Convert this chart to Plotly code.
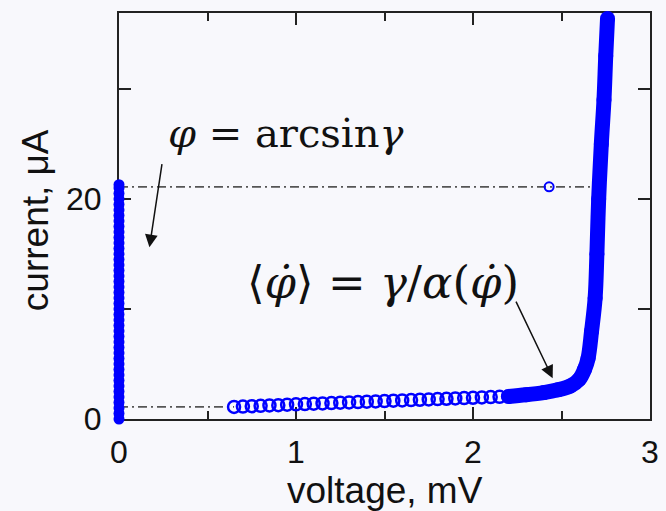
import plotly.graph_objects as go

# Josephson junction I-V curve: superconducting branch and resistive branch
zero_i = [0.0, 0.5, 1.0, 1.5, 2.0, 2.5, 3.0, 3.5, 4.0, 4.5, 5.0, 5.5, 6.0, 6.5,
          7.0, 7.5, 8.0, 8.5, 9.0, 9.5, 10.0, 10.5, 11.0, 11.5, 12.0, 12.5, 13.0,
          13.5, 14.0, 14.5, 15.0, 15.5, 16.0, 16.5, 17.0, 17.5, 18.0, 18.5, 19.0,
          19.5, 20.0, 20.5, 21.0, 21.3]
zero_v = [0.0] * len(zero_i)

# resistive branch, sparse sampling at low voltage
run_v = [0.65, 0.70, 0.75, 0.80, 0.85, 0.90, 0.95, 1.00, 1.05, 1.10, 1.15, 1.20,
         1.25, 1.30, 1.35, 1.40, 1.45, 1.50, 1.55, 1.60, 1.65, 1.70, 1.75, 1.80,
         1.85, 1.90, 1.95, 2.00, 2.05, 2.10, 2.15, 2.20]
run_i = [1.10, 1.13, 1.16, 1.20, 1.23, 1.26, 1.30, 1.33, 1.36, 1.39, 1.42, 1.45,
         1.48, 1.51, 1.54, 1.57, 1.60, 1.63, 1.66, 1.69, 1.72, 1.75, 1.78, 1.81,
         1.84, 1.87, 1.90, 1.93, 1.96, 1.99, 2.02, 2.05]

# resistive branch near and above the gap voltage
gap_v = [2.20, 2.30, 2.40, 2.48, 2.55, 2.60, 2.63, 2.65, 2.67, 2.69, 2.70, 2.71,
         2.725, 2.74, 2.75, 2.76]
gap_i = [2.05, 2.20, 2.40, 2.65, 3.00, 3.60, 4.50, 5.50, 8.00, 11.0, 15.0, 20.0,
         25.0, 29.0, 33.0, 36.4]

# switching and retrapping current levels
switch_v = [0.0, 2.665]
switch_i = [21.1, 21.1]
retrap_v = [0.0, 0.65]
retrap_i = [1.1, 1.1]
lone_v = [2.43]
lone_i = [21.1]

x_ticks = [0, 1, 2, 3]
y_ticks = [0, 10, 20, 30]
y_labels = ["0", "", "20", ""]

BLUE = "#0000ff"
INK = "#111111"
BG = "#f8f8fc"
DASH = "9px,4px,2px,4px"

fig = go.Figure()

fig.add_trace(go.Scatter(x=switch_v, y=switch_i, mode="lines",
                         line=dict(color="#555555", width=1.6, dash=DASH)))
fig.add_trace(go.Scatter(x=retrap_v, y=retrap_i, mode="lines",
                         line=dict(color="#555555", width=1.6, dash=DASH)))

fig.add_trace(go.Scatter(x=zero_v, y=zero_i, mode="markers", cliponaxis=False,
                         marker=dict(color=BLUE, size=11, line=dict(width=0))))

fig.add_trace(go.Scatter(x=run_v, y=run_i, mode="markers",
                         marker=dict(symbol="circle-open", color=BLUE, size=12,
                                     line=dict(width=2.5, color=BLUE))))

fig.add_trace(go.Scatter(x=gap_v, y=gap_i, mode="lines+markers", cliponaxis=False,
                         line=dict(color=BLUE, width=15, shape="spline"),
                         marker=dict(color=BLUE, size=15)))

fig.add_trace(go.Scatter(x=lone_v, y=lone_i, mode="markers",
                         marker=dict(symbol="circle-open", color=BLUE, size=9,
                                     line=dict(width=2, color=BLUE))))

serif = "DejaVu Serif, serif"
phidot = "<i>φ̇</i>"

annotations = [
    dict(x=0.94, y=26.0, xref="x", yref="y", showarrow=False,
         text="<i>φ</i> = arcsin<i>γ</i>",
         font=dict(family=serif, size=40, color=INK)),
    dict(x=1.49, y=12.4, xref="x", yref="y", showarrow=False,
         text="⟨" + phidot + "⟩ = <i>γ</i>/<i>α</i>(" + phidot + ")",
         font=dict(family=serif, size=45, color=INK)),
    dict(x=0.172, y=15.6, ax=0.244, ay=23.3, xref="x", yref="y",
         axref="x", ayref="y", text="", showarrow=True,
         arrowhead=2, arrowsize=1.7, arrowwidth=1.5, arrowcolor=INK),
    dict(x=2.45, y=3.7, ax=2.239, ay=10.8, xref="x", yref="y",
         axref="x", ayref="y", text="", showarrow=True,
         arrowhead=2, arrowsize=1.7, arrowwidth=1.5, arrowcolor=INK),
    dict(x=0.5, y=-0.175, xref="paper", yref="paper", showarrow=False,
         text="voltage, mV", yanchor="middle",
         font=dict(family="Liberation Sans, Arial", size=37, color=INK)),
    dict(x=-0.158, y=0.49, xref="paper", yref="paper", showarrow=False,
         text="current, μA", textangle=-90, xanchor="center",
         font=dict(family="Liberation Sans, Arial", size=37, color=INK)),
]

fig.update_layout(
    width=666, height=511,
    margin=dict(l=119, r=7, t=13, b=92),
    paper_bgcolor=BG, plot_bgcolor=BG,
    showlegend=False,
    annotations=annotations,
    font=dict(family="Liberation Sans, Arial", size=32, color=INK),
)

fig.update_xaxes(range=[0, 3], tickvals=x_ticks, ticks="inside", ticklen=12,
                 tickwidth=1.5, tickcolor="#222222",
                 minor=dict(dtick=0.5, ticks="inside", ticklen=8, tickwidth=1.5,
                            tickcolor="#222222"),
                 showline=True, linecolor="#222222", linewidth=2, mirror="ticks",
                 showgrid=False, zeroline=False, ticklabelstandoff=4,
                 ticklabeloverflow="allow", layer="below traces")
fig.update_yaxes(range=[0, 36.9], tickvals=y_ticks, ticktext=y_labels,
                 ticks="inside", ticklen=12, tickwidth=1.5, tickcolor="#222222",
                 showline=True, linecolor="#222222", linewidth=2, mirror="ticks",
                 showgrid=False, zeroline=False, ticklabelstandoff=9,
                 layer="below traces")

fig.write_html("out.html")
